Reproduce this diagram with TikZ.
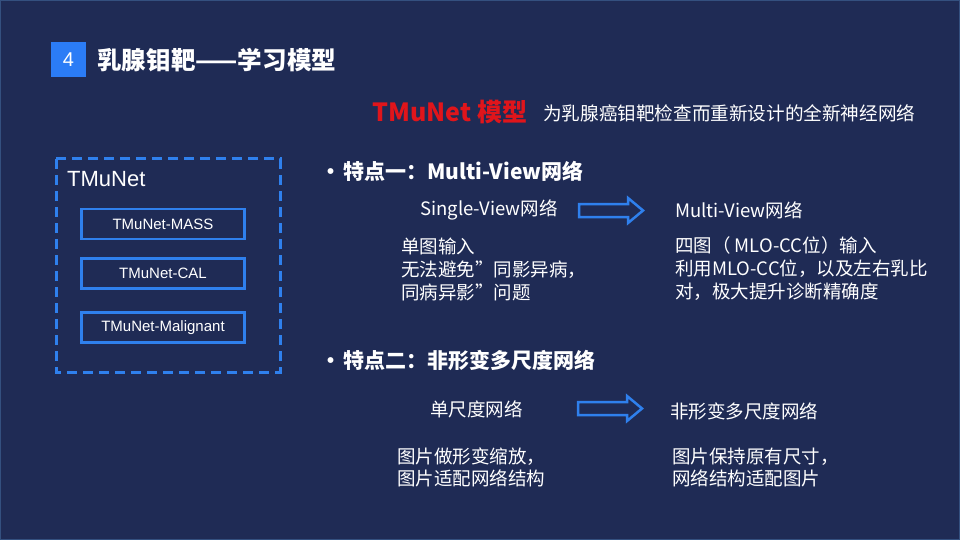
\documentclass[tikz,border=0pt]{standalone}
\usepackage{fontspec}
\setmainfont{Noto Sans CJK SC}
\newfontfamily\arialf{Liberation Sans}
\definecolor{bg}{HTML}{1F2B55}
\definecolor{edge}{HTML}{34507F}
\definecolor{boxblue}{HTML}{2F80ED}
\definecolor{sqblue}{HTML}{2B7CF6}
\definecolor{tred}{HTML}{E0151B}
\begin{document}
\begin{tikzpicture}[x=1pt,y=-1pt,
  txt/.style={text=white, inner sep=0pt, anchor=west},
  body/.style={txt, font=\fontsize{18.5}{23}\selectfont, align=left},
  headline/.style={txt, font=\fontsize{21}{24}\selectfont\bfseries},
  subbox/.style={draw=boxblue, line width=2.5pt, minimum width=163pt, minimum height=30pt, inner sep=0pt, text=white, font=\arialf\fontsize{15}{18}\selectfont},
  blockarrow/.style={draw=boxblue, line width=2.5pt, line join=miter}]
\useasboundingbox (0,0) rectangle (960,540);
\fill[bg] (0,0) rectangle (960,540);
\draw[edge, line width=1pt] (0.5,0.5) rectangle (959.5,539.5);

% title
\node[fill=sqblue, minimum width=35pt, minimum height=35pt, inner sep=0pt, text=white, font=\arialf\fontsize{20}{24}\selectfont] (num) at (68.5,59.5) {4};
\node[txt, font=\fontsize{24.6}{28}\selectfont\bfseries] (title) at (97,60) {乳腺钼靶——学习模型};

\node[txt, text=tred, font=\fontsize{25}{28}\selectfont\bfseries] (tm) at (372,112) {TMuNet 模型};
\node[txt, font=\fontsize{18.6}{22}\selectfont] (tmdesc) at (543,113) {为乳腺癌钼靶检查而重新设计的全新神经网络};

% left dashed frame
\draw[boxblue, line width=3pt, dash pattern=on 10pt off 6pt] (56,159) rectangle (280,372);
\node[txt, font=\arialf\fontsize{22}{26}\selectfont] (tmlabel) at (67,179) {TMuNet};
\node[subbox] (mass) at (163,224) {TMuNet-MASS};
\node[subbox] (cal) at (163,273.5) {TMuNet-CAL};
\node[subbox] (mal) at (163,327.5) {TMuNet-Malignant};

% feature one
\node[headline] (f1) at (320,171) {\makebox[23pt][l]{•}特点一：Multi-View网络};
\node[body] (sv) at (420,210) {Single-View网络};
\coordinate (a1) at (611,210.5);
\draw[blockarrow] (a1) ++(-32,-6.5) -- ++(49,0) -- ++(0,-6) -- ++(15,12.5) -- ++(-15,12.5) -- ++(0,-6) -- ++(-49,0) -- cycle;
\node[body] (mv) at (675,210) {Multi-View网络};
\node[body] (svd) at (401,269) {单图输入\\无法避免”同影异病，\\同病异影”问题};
\node[body] (mvd) at (675,269) {四图（ MLO-CC位）输入\\利用MLO-CC位，以及左右乳比\\对，极大提升诊断精确度};

% feature two
\node[headline] (f2) at (320,360) {\makebox[23pt][l]{•}特点二：非形变多尺度网络};
\node[body] (ss) at (430,409) {单尺度网络};
\coordinate (a2) at (610,408.5);
\draw[blockarrow] (a2) ++(-32,-6.5) -- ++(49,0) -- ++(0,-6) -- ++(15,12.5) -- ++(-15,12.5) -- ++(0,-6) -- ++(-49,0) -- cycle;
\node[body] (ms) at (670,411) {非形变多尺度网络};
\node[body, font=\fontsize{18.5}{22}\selectfont] (ssd) at (397,467) {图片做形变缩放，\\图片适配网络结构};
\node[body, font=\fontsize{18.5}{22}\selectfont] (msd) at (672,467) {图片保持原有尺寸，\\网络结构适配图片};
\end{tikzpicture}
\end{document}
